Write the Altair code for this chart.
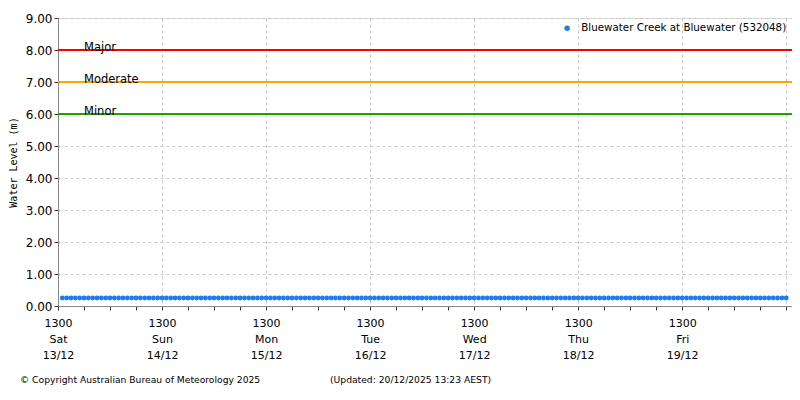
import altair as alt
import pandas as pd

# hourly readings, Bluewater Creek at Bluewater (532048), 13/12 14:00 -> 20/12 13:00
levels = [
    0.25, 0.25, 0.25, 0.25, 0.25, 0.25, 0.25, 0.25, 0.25, 0.25, 0.25, 0.25,
    0.25, 0.25, 0.25, 0.25, 0.25, 0.25, 0.25, 0.25, 0.25, 0.25, 0.25, 0.25,
    0.25, 0.25, 0.25, 0.25, 0.25, 0.25, 0.25, 0.25, 0.25, 0.25, 0.25, 0.25,
    0.25, 0.25, 0.25, 0.25, 0.25, 0.25, 0.25, 0.25, 0.25, 0.25, 0.25, 0.25,
    0.25, 0.25, 0.25, 0.25, 0.25, 0.25, 0.25, 0.25, 0.25, 0.25, 0.25, 0.25,
    0.25, 0.25, 0.25, 0.25, 0.25, 0.25, 0.25, 0.25, 0.25, 0.25, 0.25, 0.25,
    0.25, 0.25, 0.25, 0.25, 0.25, 0.25, 0.25, 0.25, 0.25, 0.25, 0.25, 0.25,
    0.25, 0.25, 0.25, 0.25, 0.25, 0.25, 0.25, 0.25, 0.25, 0.25, 0.25, 0.25,
    0.25, 0.25, 0.25, 0.25, 0.25, 0.25, 0.25, 0.25, 0.25, 0.25, 0.25, 0.25,
    0.25, 0.25, 0.25, 0.25, 0.25, 0.25, 0.25, 0.25, 0.25, 0.25, 0.25, 0.25,
    0.25, 0.25, 0.25, 0.25, 0.25, 0.25, 0.25, 0.25, 0.25, 0.25, 0.25, 0.25,
    0.25, 0.25, 0.25, 0.25, 0.25, 0.25, 0.25, 0.25, 0.25, 0.25, 0.25, 0.25,
    0.25, 0.25, 0.25, 0.25, 0.25, 0.25, 0.25, 0.25, 0.25, 0.25, 0.25, 0.25,
    0.25, 0.25, 0.25, 0.25, 0.25, 0.25, 0.25, 0.25, 0.25, 0.25, 0.25, 0.25,
]
times = pd.date_range("2025-12-13 14:00", periods=len(levels), freq="h")
series_name = "Bluewater Creek at Bluewater (532048)"

flood_names = ["Major", "Moderate", "Minor"]
flood_levels = [8.0, 7.0, 6.0]
flood_colors = ["#ff0000", "#ffa500", "#22a000"]

x_start = "2025-12-13T13:00:00Z"
x_end = "2025-12-20T14:20:00Z"
tick_times = pd.date_range("2025-12-13 13:00", "2025-12-20 13:00", freq="6h")

copyright_text = "© Copyright Australian Bureau of Meteorology 2025"
updated_text = "(Updated: 20/12/2025 13:23 AEST)"

df = pd.DataFrame({
    "time": [t.strftime("%Y-%m-%dT%H:%M:%SZ") for t in times],
    "level": levels,
    "series": series_name,
})
floods = pd.DataFrame({"name": flood_names, "level": flood_levels})

FONT = "DejaVu Sans"
W, H = 734, 288
GRID = "#c8c8c8"

x_axis = alt.Axis(
    values=[alt.DateTime(year=t.year, month=t.month, date=t.day, hours=t.hour, utc=True)
            for t in tick_times],
    labelExpr="utchours(datum.value) == 13 && utcdate(datum.value) < 20 ? "
              "['1300', utcFormat(datum.value, '%a'), utcFormat(datum.value, '%d/%m')] : ''",
    labelLineHeight=16,
    labelFontSize=11,
    labelFont=FONT,
    labelColor="black",
    labelPadding=7,
    labelFlush=False,
    labelOverlap=False,
    title=None,
    domainColor="#888",
    tickColor="#333",
    tickSize=4,
    gridColor=GRID,
    gridDash=[3, 3],
    gridOpacity={"condition": {"test": "utchours(datum.value) == 13", "value": 1}, "value": 0},
)
x_enc = alt.X("time:T", scale=alt.Scale(type="utc", domain=[x_start, x_end]), axis=x_axis)

y_axis = alt.Axis(
    values=[0, 1, 2, 3, 4, 5, 6, 7, 8, 9],
    format=".2f",
    labelFontSize=12,
    labelFont=FONT,
    labelColor="black",
    labelOverlap=False,
    labelFlush=False,
    title="Water Level (m)",
    titleFont="DejaVu Sans Mono",
    titleFontSize=10,
    titleFontWeight="normal",
    titlePadding=7,
    domainColor="#888",
    tickColor="#333",
    tickSize=4,
    gridColor=GRID,
    gridDash=[3, 3],
)
y_scale = alt.Scale(domain=[0, 9], nice=False)
y_enc = alt.Y("level:Q", scale=y_scale, axis=y_axis)

flood_lines = alt.Chart(floods).mark_rule(strokeWidth=2).encode(
    y=y_enc,
    color=alt.Color("name:N", scale=alt.Scale(domain=flood_names, range=flood_colors), legend=None),
)
flood_labels = alt.Chart(floods).mark_text(
    align="left", baseline="alphabetic", dy=1, font=FONT, fontSize=11.5, color="black"
).encode(
    x=alt.value(26),
    y=y_enc,
    text="name:N",
)

points = alt.Chart(df).mark_circle(size=24, opacity=1).encode(
    x=x_enc,
    y=y_enc,
    color=alt.Color(
        "series:N",
        scale=alt.Scale(range=["#1c7ee6"]),
        legend=alt.Legend(
            title=None, orient="top-right", offset=5,
            labelFont=FONT, labelFontSize=10.3, labelColor="black", labelOffset=9,
            symbolType="circle", symbolSize=30, labelLimit=400,
        ),
    ),
)

footer = alt.Chart(pd.DataFrame({"t": [copyright_text, updated_text], "px": [-38, 272]})).mark_text(
    align="left", baseline="middle", font=FONT, fontSize=9.2, color="black"
).encode(
    x=alt.X("px:Q", scale=None),
    y=alt.value(362),
    text="t:N",
)

chart = alt.layer(flood_lines, flood_labels, points, footer).resolve_scale(
    color="independent"
).properties(
    width=W, height=H,
    autosize=alt.AutoSizeParams(type="none"),
    padding={"left": 50, "top": 10, "right": 0, "bottom": 80},
).configure_view(stroke="#ccc").configure(background="white")

chart.save("out.html", embed_options={"renderer": "svg", "actions": False})
